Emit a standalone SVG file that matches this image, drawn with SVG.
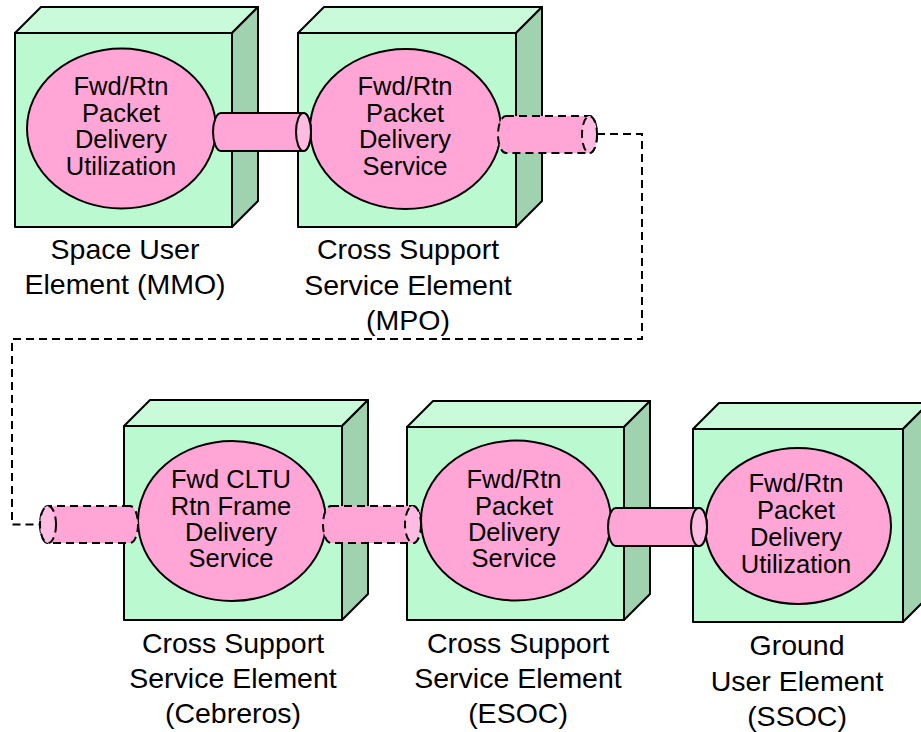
<svg xmlns="http://www.w3.org/2000/svg" width="921" height="732" viewBox="0 0 921 732">
  <style>
    .front { fill: #bbfad1; stroke: #000; stroke-width: 2; stroke-linejoin: round; }
    .top { fill: #c9fad9; stroke: #000; stroke-width: 2; stroke-linejoin: round; }
    .side { fill: #a0d2b0; stroke: #000; stroke-width: 2; stroke-linejoin: round; }
    .svc { fill: #ffa6d6; stroke: #000; stroke-width: 2; }
    .body { fill: #ffa6d6; stroke: #000; stroke-width: 2; }
    .cap { fill: #ffbce2; stroke: #000; stroke-width: 2; }
    .dash { stroke-dasharray: 8 5; }
    .link { fill: none; stroke: #000; stroke-width: 2; stroke-dasharray: 8 5; }
    .svctext { font-family: "Liberation Sans", Arial, sans-serif; font-size: 25.5px; text-anchor: middle; fill: #000; }
    .label { font-family: "Liberation Sans", Arial, sans-serif; font-size: 28.5px; text-anchor: middle; fill: #000; }
  </style>

  <!-- Space User Element (MMO) -->
  <g id="node-mmo">
    <polygon class="top" points="15,33 41,7 258,7 232,33"/>
    <polygon class="side" points="232,33 258,7 258,201 232,227"/>
    <rect class="front" x="15" y="33" width="217" height="194"/>
    <ellipse class="svc" cx="121.5" cy="128.5" rx="94.5" ry="80"/>
    <text class="svctext" x="121" y="95">Fwd/Rtn</text>
    <text class="svctext" x="121" y="122">Packet</text>
    <text class="svctext" x="121" y="148">Delivery</text>
    <text class="svctext" x="121" y="175">Utilization</text>
    <text class="label" x="125" y="259">Space User</text>
    <text class="label" x="125" y="294">Element (MMO)</text>
  </g>

  <!-- Cross Support Service Element (MPO) -->
  <g id="node-mpo">
    <polygon class="top" points="298,33 324,7 542,7 516,33"/>
    <polygon class="side" points="516,33 542,7 542,201 516,227"/>
    <rect class="front" x="298" y="33" width="218" height="194"/>
    <ellipse class="svc" cx="405.5" cy="129" rx="95.5" ry="80"/>
    <text class="svctext" x="405" y="95">Fwd/Rtn</text>
    <text class="svctext" x="405" y="122">Packet</text>
    <text class="svctext" x="405" y="148">Delivery</text>
    <text class="svctext" x="405" y="175">Service</text>
    <text class="label" x="408" y="259">Cross Support</text>
    <text class="label" x="408" y="295">Service Element</text>
    <text class="label" x="408" y="330">(MPO)</text>
  </g>

  <!-- Cross Support Service Element (Cebreros) -->
  <g id="node-cebreros">
    <polygon class="top" points="124,426 150,400 368,400 342,426"/>
    <polygon class="side" points="342,426 368,400 368,594 342,620"/>
    <rect class="front" x="124" y="426" width="218" height="194"/>
    <ellipse class="svc" cx="232" cy="521" rx="94" ry="80"/>
    <text class="svctext" x="231" y="488">Fwd CLTU</text>
    <text class="svctext" x="231" y="515">Rtn Frame</text>
    <text class="svctext" x="231" y="541">Delivery</text>
    <text class="svctext" x="231" y="567">Service</text>
    <text class="label" x="233" y="653">Cross Support</text>
    <text class="label" x="233" y="688">Service Element</text>
    <text class="label" x="233" y="723">(Cebreros)</text>
  </g>

  <!-- Cross Support Service Element (ESOC) -->
  <g id="node-esoc">
    <polygon class="top" points="407,427 433,401 650,401 624,427"/>
    <polygon class="side" points="624,427 650,401 650,594 624,620"/>
    <rect class="front" x="407" y="427" width="217" height="193"/>
    <ellipse class="svc" cx="516" cy="520.5" rx="95" ry="80"/>
    <text class="svctext" x="514" y="488">Fwd/Rtn</text>
    <text class="svctext" x="514" y="515">Packet</text>
    <text class="svctext" x="514" y="541">Delivery</text>
    <text class="svctext" x="514" y="567">Service</text>
    <text class="label" x="518" y="653">Cross Support</text>
    <text class="label" x="518" y="688">Service Element</text>
    <text class="label" x="518" y="723">(ESOC)</text>
  </g>

  <!-- Ground User Element (SSOC) -->
  <g id="node-ssoc">
    <polygon class="top" points="693,429 719,403 929,403 903,429"/>
    <polygon class="side" points="903,429 929,403 929,596 903,622"/>
    <rect class="front" x="693" y="429" width="210" height="193"/>
    <ellipse class="svc" cx="798" cy="526" rx="93" ry="78"/>
    <text class="svctext" x="796" y="492">Fwd/Rtn</text>
    <text class="svctext" x="796" y="519">Packet</text>
    <text class="svctext" x="796" y="546">Delivery</text>
    <text class="svctext" x="796" y="573">Utilization</text>
    <text class="label" x="797" y="655">Ground</text>
    <text class="label" x="797" y="691">User Element</text>
    <text class="label" x="797" y="726">(SSOC)</text>
  </g>

  <!-- Connectors: cylinders between services and the dashed link -->
  <g id="connectors">
    <!-- MMO to MPO (solid) -->
    <path class="body" d="M221,113 L303.5,113 A7.5,19 0 0 1 303.5,151 L221,151 A8,19 0 0 1 221,113 Z"/>
    <ellipse class="cap" cx="303.5" cy="132" rx="7.5" ry="19"/>

    <!-- MPO outgoing (dashed) -->
    <path class="body dash" d="M506,116 L589.5,116 A7.5,18.5 0 0 1 589.5,153 L506,153 A8,18.5 0 0 1 506,116 Z"/>
    <ellipse class="cap dash" cx="589.5" cy="134.5" rx="7.5" ry="18.5"/>

    <!-- dashed path from MPO around to Cebreros -->
    <polyline class="link" points="597,134 642,134 642,339 12,339 12,524.5 40,524.5"/>

    <!-- Cebreros incoming (dashed) -->
    <path class="body dash" d="M130,506 L48,506 A8,18.5 0 0 0 48,543 L130,543 A8,18.5 0 0 0 130,506 Z"/>
    <ellipse class="cap dash" cx="48" cy="524.5" rx="8" ry="18.5"/>

    <!-- Cebreros to ESOC (dashed) -->
    <path class="body dash" d="M331,506 L413,506 A8,18.5 0 0 1 413,543 L331,543 A8,18.5 0 0 1 331,506 Z"/>
    <ellipse class="cap dash" cx="413" cy="524.5" rx="8" ry="18.5"/>

    <!-- ESOC to SSOC (solid) -->
    <path class="body" d="M616,508 L699,508 A8,19 0 0 1 699,546 L616,546 A8,19 0 0 1 616,508 Z"/>
    <ellipse class="cap" cx="699" cy="527" rx="8" ry="19"/>
  </g>
</svg>
